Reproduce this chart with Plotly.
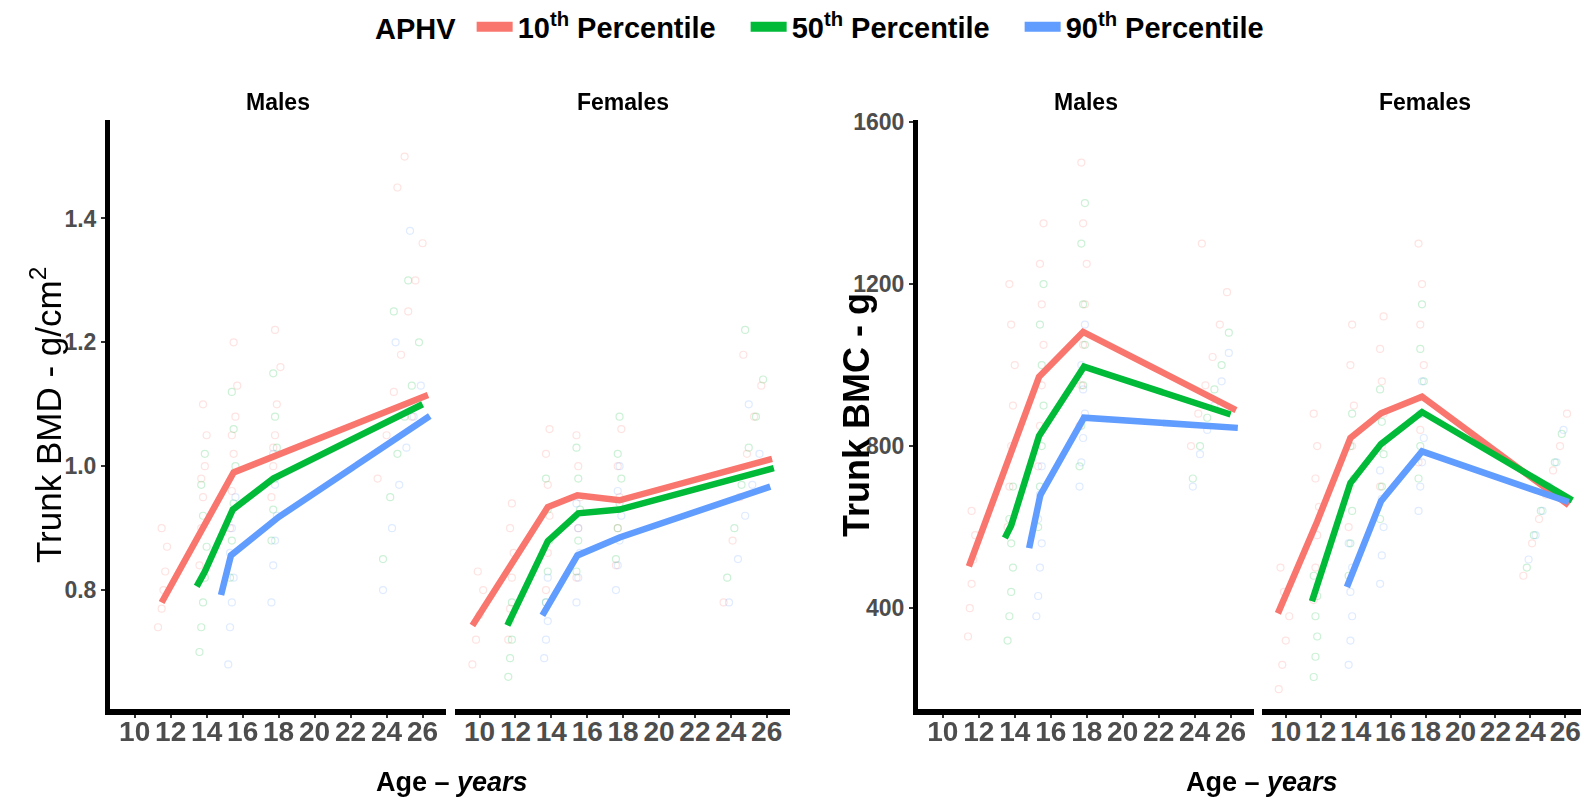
import plotly.graph_objects as go

# ---------------- data ----------------
groups = ["10th Percentile", "50th Percentile", "90th Percentile"]
colors = ["#F8766D", "#00BA38", "#619CFF"]
x_ticks = [10, 12, 14, 16, 18, 20, 22, 24, 26]
bmd_ticks = [0.8, 1.0, 1.2, 1.4]
bmc_ticks = [400, 800, 1200, 1600]

# fitted lines (age, value)
bmd_m_line_p10_age = [11.5, 15.5, 26.3]
bmd_m_line_p10_val = [0.780, 0.990, 1.115]
bmd_m_line_p50_age = [13.45, 13.9, 15.45, 17.7, 26.0]
bmd_m_line_p50_val = [0.806, 0.830, 0.930, 0.980, 1.100]
bmd_m_line_p90_age = [14.8, 15.35, 18.0, 26.4]
bmd_m_line_p90_val = [0.792, 0.856, 0.918, 1.081]

bmd_f_line_p10_age = [9.6, 13.8, 15.45, 17.8, 26.3]
bmd_f_line_p10_val = [0.743, 0.934, 0.953, 0.945, 1.012]
bmd_f_line_p50_age = [11.55, 13.8, 15.5, 17.8, 26.4]
bmd_f_line_p50_val = [0.743, 0.879, 0.924, 0.930, 0.997]
bmd_f_line_p90_age = [13.5, 15.45, 17.8, 26.2]
bmd_f_line_p90_val = [0.759, 0.856, 0.885, 0.967]

bmc_m_line_p10_age = [11.45, 15.35, 17.8, 26.3]
bmc_m_line_p10_val = [503, 971, 1082, 889]
bmc_m_line_p50_age = [13.45, 13.8, 15.35, 17.85, 26.0]
bmc_m_line_p50_val = [573, 604, 825, 996, 878]
bmc_m_line_p90_age = [14.8, 15.42, 17.85, 26.4]
bmc_m_line_p90_val = [548, 679, 870, 845]

bmc_f_line_p10_age = [9.55, 11.8, 13.7, 15.45, 17.8, 26.2]
bmc_f_line_p10_val = [387, 614, 820, 881, 922, 654]
bmc_f_line_p50_age = [11.5, 13.7, 15.45, 17.8, 26.4]
bmc_f_line_p50_val = [417, 709, 805, 884, 666]
bmc_f_line_p90_age = [13.5, 15.45, 17.8, 26.2]
bmc_f_line_p90_val = [452, 664, 787, 662]

# observed points (age, value)
bmd_m_p10_age = [11.3, 11.5, 11.6, 11.7, 11.8, 11.5, 13.6, 13.7, 13.8, 13.9, 14.0, 13.8, 13.7,
                 15.3, 15.4, 15.5, 15.6, 15.7, 15.5, 15.4, 17.6, 17.7, 17.8, 17.9, 18.1, 17.8, 17.7,
                 23.5, 24.0, 24.4, 24.8, 25.2, 25.6, 26.0, 24.6, 25.0, 25.4]
bmd_m_p10_val = [0.74, 0.77, 0.80, 0.83, 0.87, 0.90, 0.84, 0.90, 0.95, 1.00, 1.05, 1.10, 0.98,
                 0.90, 0.96, 1.02, 1.08, 1.13, 1.20, 1.05, 0.95, 1.00, 1.05, 1.10, 1.16, 1.22, 1.03,
                 0.98, 1.05, 1.12, 1.18, 1.25, 1.30, 1.36, 1.45, 1.50, 1.08]
bmd_m_p50_age = [13.6, 13.7, 13.8, 13.9, 14.0, 13.8, 13.7, 13.9, 15.3, 15.4, 15.5, 15.6, 15.5, 15.4,
                 17.6, 17.7, 17.8, 17.9, 17.8, 17.7, 23.8, 24.2, 24.6, 25.0, 25.4, 25.8, 24.4, 25.2]
bmd_m_p50_val = [0.70, 0.74, 0.78, 0.82, 0.87, 0.92, 0.97, 1.02, 0.82, 0.88, 0.94, 1.00, 1.06, 1.12,
                 0.88, 0.93, 0.98, 1.03, 1.08, 1.15, 0.85, 0.95, 1.02, 1.08, 1.13, 1.20, 1.25, 1.30]
bmd_m_p90_age = [15.2, 15.3, 15.4, 15.5, 15.3, 15.4, 15.6, 17.6, 17.7, 17.8, 17.9, 17.8, 17.7,
                 23.8, 24.3, 24.7, 25.1, 25.5, 25.9, 24.5, 25.3]
bmd_m_p90_val = [0.68, 0.74, 0.78, 0.82, 0.86, 0.90, 0.95, 0.78, 0.84, 0.88, 0.92, 0.97, 1.02,
                 0.80, 0.90, 0.97, 1.03, 1.08, 1.13, 1.20, 1.38]

bmd_f_p10_age = [9.6, 9.8, 10.0, 10.2, 9.9, 11.6, 11.7, 11.8, 11.9, 11.7, 11.8, 13.7, 13.8, 13.9, 13.8, 13.7, 13.9,
                 15.4, 15.5, 15.6, 15.5, 15.4, 17.6, 17.7, 17.8, 17.7, 17.9, 23.6, 24.1, 24.5, 24.9, 25.3, 25.7, 24.7]
bmd_f_p10_val = [0.68, 0.72, 0.76, 0.80, 0.83, 0.72, 0.77, 0.82, 0.86, 0.90, 0.94, 0.80, 0.86, 0.92, 0.97, 1.02, 1.06,
                 0.82, 0.90, 0.95, 1.00, 1.05, 0.84, 0.90, 0.95, 1.00, 1.06, 0.78, 0.88, 0.95, 1.02, 1.08, 1.13, 1.18]
bmd_f_p50_age = [11.6, 11.7, 11.8, 11.7, 11.8, 13.7, 13.8, 13.9, 13.8, 13.7, 15.4, 15.5, 15.6, 15.5, 15.4,
                 17.6, 17.7, 17.8, 17.9, 17.7, 17.8, 23.8, 24.2, 24.6, 25.0, 25.4, 25.8, 24.8]
bmd_f_p50_val = [0.66, 0.69, 0.72, 0.75, 0.78, 0.78, 0.83, 0.88, 0.93, 0.98, 0.83, 0.88, 0.93, 0.98, 1.03,
                 0.85, 0.90, 0.94, 0.98, 1.02, 1.08, 0.82, 0.90, 0.97, 1.03, 1.08, 1.14, 1.22]
bmd_f_p90_age = [13.6, 13.7, 13.8, 13.7, 13.8, 15.4, 15.5, 15.6, 15.5, 15.4, 17.6, 17.7, 17.8, 17.9, 17.7, 17.8,
                 23.9, 24.4, 24.8, 25.2, 25.6, 25.0]
bmd_f_p90_val = [0.69, 0.72, 0.75, 0.78, 0.82, 0.78, 0.82, 0.86, 0.90, 0.94, 0.80, 0.84, 0.88, 0.92, 0.96, 1.00,
                 0.78, 0.85, 0.92, 0.97, 1.02, 1.10]

bmc_m_p10_age = [11.4, 11.5, 11.6, 11.7, 11.8, 11.6, 13.6, 13.7, 13.8, 13.9, 14.0, 13.8, 13.7,
                 15.3, 15.4, 15.5, 15.6, 15.5, 15.4, 15.6, 17.6, 17.7, 17.8, 17.9, 18.0, 17.8, 17.7,
                 23.8, 24.2, 24.6, 25.0, 25.4, 25.8, 24.4]
bmc_m_p10_val = [330, 400, 460, 520, 580, 640, 600, 700, 800, 900, 1000, 1100, 1200,
                 750, 850, 950, 1050, 1150, 1250, 1350, 850, 950, 1050, 1150, 1250, 1350, 1500,
                 800, 880, 950, 1020, 1100, 1180, 1300]
bmc_m_p50_age = [13.6, 13.7, 13.8, 13.9, 13.8, 13.7, 13.9, 15.3, 15.4, 15.5, 15.6, 15.5, 15.4, 15.6,
                 17.6, 17.7, 17.8, 17.9, 17.8, 17.7, 17.9, 23.9, 24.3, 24.7, 25.1, 25.5, 25.9]
bmc_m_p50_val = [320, 380, 440, 500, 560, 620, 700, 600, 700, 800, 900, 1000, 1100, 1200,
                 750, 850, 950, 1050, 1150, 1300, 1400, 720, 800, 870, 940, 1000, 1080]
bmc_m_p90_age = [15.2, 15.3, 15.4, 15.5, 15.3, 15.4, 15.5, 17.6, 17.7, 17.8, 17.9, 17.8, 17.7, 17.9,
                 23.9, 24.3, 24.7, 25.1, 25.5, 25.9]
bmc_m_p90_val = [380, 430, 500, 560, 620, 680, 750, 700, 760, 820, 880, 940, 1000, 1100,
                 700, 780, 840, 900, 960, 1030]

bmc_f_p10_age = [9.6, 9.8, 10.0, 10.2, 9.9, 9.7, 11.6, 11.7, 11.8, 11.9, 11.7, 11.8, 11.6,
                 13.6, 13.7, 13.8, 13.9, 13.7, 13.8, 15.4, 15.5, 15.6, 15.5, 15.4, 15.6,
                 17.6, 17.7, 17.8, 17.9, 17.7, 17.8, 17.6, 23.6, 24.1, 24.5, 24.9, 25.3, 25.7, 26.1]
bmc_f_p10_val = [200, 260, 320, 380, 440, 500, 420, 500, 580, 650, 720, 800, 880,
                 600, 700, 800, 900, 1000, 1100, 700, 800, 880, 960, 1040, 1120,
                 760, 840, 920, 1000, 1100, 1200, 1300, 480, 560, 620, 680, 740, 800, 880]
bmc_f_p50_age = [11.6, 11.7, 11.8, 11.7, 11.8, 11.6, 13.6, 13.7, 13.8, 13.9, 13.7, 13.8,
                 15.4, 15.5, 15.6, 15.5, 15.4, 17.6, 17.7, 17.8, 17.9, 17.7, 17.8,
                 23.8, 24.2, 24.6, 25.0, 25.4, 25.8]
bmc_f_p50_val = [230, 280, 330, 380, 430, 480, 480, 560, 640, 720, 800, 880,
                 620, 700, 780, 860, 940, 720, 800, 880, 960, 1040, 1150,
                 500, 580, 640, 700, 760, 830]
bmc_f_p90_age = [13.6, 13.7, 13.8, 13.7, 13.8, 13.6, 15.4, 15.5, 15.6, 15.5, 15.4,
                 17.6, 17.7, 17.8, 17.9, 17.7, 17.8, 23.9, 24.3, 24.7, 25.1, 25.5, 25.9]
bmc_f_p90_val = [260, 320, 380, 440, 500, 560, 460, 530, 600, 670, 740,
                 640, 700, 760, 820, 880, 960, 520, 580, 640, 700, 760, 840]

# ---------------- figure ----------------
OFF = 8                      # default page body margin
W, H = 1589 - 2 * OFF, 808 - 2 * OFF
SANS = "Liberation Sans, Arial, sans-serif"

panels = [
    ("x", "y",
     [(bmd_m_p10_age, bmd_m_p10_val), (bmd_m_p50_age, bmd_m_p50_val), (bmd_m_p90_age, bmd_m_p90_val)],
     [(bmd_m_line_p10_age, bmd_m_line_p10_val), (bmd_m_line_p50_age, bmd_m_line_p50_val),
      (bmd_m_line_p90_age, bmd_m_line_p90_val)]),
    ("x2", "y",
     [(bmd_f_p10_age, bmd_f_p10_val), (bmd_f_p50_age, bmd_f_p50_val), (bmd_f_p90_age, bmd_f_p90_val)],
     [(bmd_f_line_p10_age, bmd_f_line_p10_val), (bmd_f_line_p50_age, bmd_f_line_p50_val),
      (bmd_f_line_p90_age, bmd_f_line_p90_val)]),
    ("x3", "y2",
     [(bmc_m_p10_age, bmc_m_p10_val), (bmc_m_p50_age, bmc_m_p50_val), (bmc_m_p90_age, bmc_m_p90_val)],
     [(bmc_m_line_p10_age, bmc_m_line_p10_val), (bmc_m_line_p50_age, bmc_m_line_p50_val),
      (bmc_m_line_p90_age, bmc_m_line_p90_val)]),
    ("x4", "y2",
     [(bmc_f_p10_age, bmc_f_p10_val), (bmc_f_p50_age, bmc_f_p50_val), (bmc_f_p90_age, bmc_f_p90_val)],
     [(bmc_f_line_p10_age, bmc_f_line_p10_val), (bmc_f_line_p50_age, bmc_f_line_p50_val),
      (bmc_f_line_p90_age, bmc_f_line_p90_val)]),
]

fig = go.Figure()
for xa, ya, pts, lines in panels:
    for (ax_, av), c in zip(pts, colors):
        fig.add_trace(go.Scatter(x=ax_, y=av, xaxis=xa, yaxis=ya, mode="markers",
                                 marker=dict(symbol="circle-open", size=7, color=c,
                                             line=dict(width=1.2)),
                                 opacity=0.2, showlegend=False, hoverinfo="skip"))
for xa, ya, pts, lines in panels:
    for (la, lv), c in zip(lines, colors):
        fig.add_trace(go.Scatter(x=la, y=lv, xaxis=xa, yaxis=ya, mode="lines",
                                 line=dict(color=c, width=6.5), showlegend=False))

for g, c in zip(groups, colors):
    num, rest = g.split("th ", 1)
    fig.add_trace(go.Scatter(x=[None], y=[None], mode="lines", line=dict(color=c, width=14),
                             name="<b>%s<sup>th</sup> %s</b>" % (num, rest)))


def px_x(p):
    return (p - OFF) / W


def px_y(p):
    return 1 - (p - OFF) / H


ydom = [px_y(709), px_y(120)]
xdoms = {"xaxis": [px_x(110), px_x(446)], "xaxis2": [px_x(455), px_x(790)],
         "xaxis3": [px_x(918), px_x(1254)], "xaxis4": [px_x(1262), 1.0]}
xranges = {"xaxis": [8.63, 27.3], "xaxis2": [8.63, 27.3], "xaxis3": [8.62, 27.3], "xaxis4": [8.64, 26.9]}
anchors = {"xaxis": "y", "xaxis2": "y", "xaxis3": "y2", "xaxis4": "y2"}

layout = dict(
    width=W, height=H, margin=dict(l=0, r=0, t=0, b=0, autoexpand=False),
    paper_bgcolor="white", plot_bgcolor="white",
    showlegend=True,
    legend=dict(orientation="h", x=px_x(373), xanchor="left", y=px_y(27), yanchor="middle",
                font=dict(family=SANS, size=29, color="black"),
                title=dict(text="<b>APHV</b> ", side="left", font=dict(family=SANS, size=29)),
                itemwidth=36, entrywidth=223, entrywidthmode="pixels"),
)
for k in xdoms:
    layout[k] = dict(domain=xdoms[k], range=xranges[k], anchor=anchors[k],
                     tickvals=x_ticks, ticktext=[str(v) for v in x_ticks], tickangle=0,
                     showgrid=False, zeroline=False, showline=True, linewidth=6, linecolor="black",
                     ticks="outside", ticklen=3, tickwidth=1.5, tickcolor="#333333",
                     ticklabelstandoff=-11, ticklabeloverflow="allow",
                     tickfont=dict(family=SANS, size=28, color="#4D4D4D", weight="bold"))
ytick_common = dict(showgrid=False, zeroline=False, showline=True, linewidth=5, linecolor="black",
                    ticks="outside", ticklen=4, tickwidth=1.5, tickcolor="#333333",
                    tickfont=dict(family=SANS, size=23, color="#4D4D4D", weight="bold"))
layout["yaxis"] = dict(domain=ydom, range=[0.608, 1.559], anchor="x",
                       tickvals=bmd_ticks, ticktext=["0.8", "1.0", "1.2", "1.4"], **ytick_common)
layout["yaxis2"] = dict(domain=ydom, range=[151, 1605], anchor="x3",
                        tickvals=bmc_ticks, ticktext=[str(v) for v in bmc_ticks], **ytick_common)

ann = []
for cx, txt in [(278, "Males"), (622.5, "Females"), (1086, "Males"), (1425, "Females")]:
    ann.append(dict(x=px_x(cx), y=px_y(102), xref="paper", yref="paper", showarrow=False,
                    xanchor="center", yanchor="middle",
                    text="<b>%s</b>" % txt, font=dict(family=SANS, size=23, color="black")))
for cx in [452, 1262]:
    ann.append(dict(x=px_x(cx), y=px_y(782), xref="paper", yref="paper", showarrow=False,
                    xanchor="center", yanchor="middle",
                    text="<b>Age – <i>years</i></b>", font=dict(family=SANS, size=27, color="black")))
ann.append(dict(x=px_x(46), y=px_y(415), xref="paper", yref="paper", showarrow=False, textangle=-90,
                xanchor="center", yanchor="middle",
                text="Trunk BMD - g/cm<sup>2</sup>", font=dict(family=SANS, size=35, color="black")))
ann.append(dict(x=px_x(857), y=px_y(415), xref="paper", yref="paper", showarrow=False, textangle=-90,
                xanchor="center", yanchor="middle",
                text="<b>Trunk BMC - g</b>", font=dict(family=SANS, size=36, color="black")))
layout["annotations"] = ann

fig.update_layout(**layout)
fig.write_html("out.html")
